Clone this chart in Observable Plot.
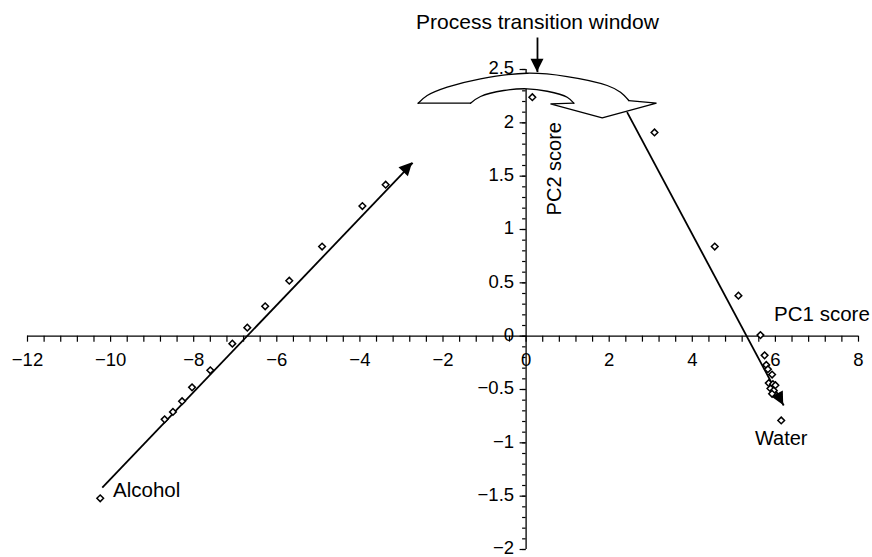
<!DOCTYPE html>
<html>
<head>
<meta charset="utf-8">
<script src="https://cdn.jsdelivr.net/npm/d3@7"></script>
<script src="https://cdn.jsdelivr.net/npm/@observablehq/plot@0.6"></script>
<style>
  html, body { margin: 0; padding: 0; background: #fff; }
</style>
</head>
<body>
<div id="chart"></div>
<script>
// ---- Data ----
const alcoholX = [-10.25, -8.70, -8.50, -8.28, -8.04, -7.60, -7.07, -6.71, -6.28, -5.70, -4.91, -3.94, -3.38];
const alcoholY = [-1.52, -0.78, -0.71, -0.61, -0.48, -0.32, -0.07, 0.08, 0.28, 0.52, 0.84, 1.22, 1.42];

const waterX = [0.15, 3.09, 4.54, 5.11, 5.64, 5.74, 5.78, 5.82, 5.92, 5.84, 5.94, 6.00, 5.88, 5.96, 5.92, 6.14];
const waterY = [2.24, 1.91, 0.84, 0.38, 0.01, -0.18, -0.27, -0.31, -0.36, -0.44, -0.45, -0.46, -0.49, -0.51, -0.54, -0.79];

const xTickLabels = [-12, -10, -8, -6, -4, -2, 0, 2, 4, 6, 8];
const yTickLabels = [-2, -1.5, -1, -0.5, 0, 0.5, 1, 1.5, 2, 2.5];

// trend arrows (start -> tip)
const arrowStartX = [-10.20, 2.43, 0.274];
const arrowStartY = [-1.42, 2.10, 2.80];
const arrowEndX = [-2.73, 6.20, 0.274];
const arrowEndY = [1.625, -0.65, 2.475];

// curved "process transition" block arrow outline
const outerArcX = [-2.597, -2.380, -1.899, -1.097, 0.026, 0.989, 1.952, 2.272, 2.472];
const outerArcY = [2.184, 2.256, 2.334, 2.413, 2.465, 2.434, 2.350, 2.287, 2.209];
const headX = [2.472, 3.138, 1.832, 0.587, 1.148];
const headY = [2.209, 2.184, 2.047, 2.178, 2.184];
const innerArcX = [1.148, 0.989, 0.508, 0.026, -0.537, -1.097, -1.338];
const innerArcY = [2.184, 2.240, 2.296, 2.319, 2.303, 2.247, 2.184];
const baseX = [-1.338, -2.597];
const baseY = [2.184, 2.184];

// ---- Build tables ----
const alcohol = alcoholX.map((x, i) => ({x, y: alcoholY[i]}));
const water = waterX.map((x, i) => ({x, y: waterY[i]}));
const arrows = arrowStartX.map((x1, i) => ({x1, y1: arrowStartY[i], x2: arrowEndX[i], y2: arrowEndY[i]}));
const pts = (xs, ys) => xs.map((x, i) => ({x, y: ys[i]}));
const outerArc = pts(outerArcX, outerArcY);
const head = pts(headX, headY);
const innerArc = pts(innerArcX, innerArcY);
const base = pts(baseX, baseY);
const shapeFill = [...outerArc, ...head.slice(1), ...innerArc.slice(1), ...base.slice(1)];

// ---- Layout ----
const W = 872, H = 557;
const mL = 27, mR = 14, mT = 69, mB = 8;
const xDom = [-12, 8], yDom = [-2, 2.5];
const kx = (W - mL - mR) / (xDom[1] - xDom[0]);
const ky = (H - mT - mB) / (yDom[1] - yDom[0]);

const xMinor = d3.range(-12, 8.0001, 0.4).map(v => +v.toFixed(2));
const yMinor = d3.range(-2, 2.5001, 0.1).map(v => +v.toFixed(2));
const yMajor = yTickLabels;

const fmt = d => d < 0 ? "\u2212" + Math.abs(d) : String(d);

// filled arrowheads drawn through Plot's scales
function arrowHeads(data, len, halfW) {
  return (index, scales) => {
    const g = d3.create("svg:g");
    for (const a of data) {
      const x1 = scales.x(a.x1), y1 = scales.y(a.y1), x2 = scales.x(a.x2), y2 = scales.y(a.y2);
      const dx = x2 - x1, dy = y2 - y1, L = Math.hypot(dx, dy);
      const ux = dx / L, uy = dy / L;
      const bx = x2 - ux * len, by = y2 - uy * len;
      g.append("path")
        .attr("d", `M${x2},${y2}L${bx - uy * halfW},${by + ux * halfW}L${bx + uy * halfW},${by - ux * halfW}Z`)
        .attr("fill", "black");
    }
    return g.node();
  };
}

const font = "'Liberation Sans', Arial, Helvetica, sans-serif";

const chart = Plot.plot({
  width: W,
  height: H,
  marginLeft: mL,
  marginRight: mR,
  marginTop: mT,
  marginBottom: mB,
  x: {domain: xDom, axis: null},
  y: {domain: yDom, axis: null},
  style: {fontFamily: font, background: "white", overflow: "visible"},
  marks: [
    // axes lines
    Plot.ruleY([0], {x1: xDom[0], x2: xDom[1], stroke: "black", strokeWidth: 1.3}),
    Plot.ruleX([0], {y1: yDom[0], y2: yDom[1], stroke: "black", strokeWidth: 1.3}),
    // x ticks (below the axis)
    Plot.ruleX(xMinor, {x: d => d, y1: 0, y2: -6 / ky, stroke: "black", strokeWidth: 1.2}),
    // y ticks (left of the axis)
    Plot.ruleY(yMinor, {y: d => d, x1: 0, x2: -3.5 / kx, stroke: "black", strokeWidth: 1.2}),
    Plot.ruleY(yMajor, {y: d => d, x1: 0, x2: -6 / kx, stroke: "black", strokeWidth: 1.2}),
    // tick labels
    Plot.text(xTickLabels, {x: d => d, y: 0, text: fmt, dy: 24, fontSize: 18.5, fill: "black"}),
    Plot.text(yTickLabels, {x: 0, y: d => d, text: fmt, dx: -12, dy: -1, textAnchor: "end", fontSize: 18.5, fill: "black"}),

    // curved block arrow
    Plot.line(shapeFill, {x: "x", y: "y", fill: "white", stroke: "none", curve: "linear"}),
    Plot.line(outerArc, {x: "x", y: "y", stroke: "black", strokeWidth: 1.3, curve: "catmull-rom"}),
    Plot.line(innerArc, {x: "x", y: "y", stroke: "black", strokeWidth: 1.3, curve: "catmull-rom"}),
    Plot.line(head, {x: "x", y: "y", stroke: "black", strokeWidth: 1.3, strokeLinejoin: "miter"}),
    Plot.line(base, {x: "x", y: "y", stroke: "black", strokeWidth: 1.3}),

    // trend arrows
    Plot.link(arrows, {x1: "x1", y1: "y1", x2: "x2", y2: "y2", stroke: "black", strokeWidth: 1.8}),
    arrowHeads(arrows, 13, 6.5),

    // data points
    Plot.dot(alcohol, {x: "x", y: "y", symbol: "diamond2", r: 3, stroke: "black", strokeWidth: 1.5, fill: "white"}),
    Plot.dot(water, {x: "x", y: "y", symbol: "diamond2", r: 3, stroke: "black", strokeWidth: 1.5, fill: "white"}),

    // annotations
    Plot.text(["Process transition window"], {x: 0.274, y: 2.94, text: d => d, fontSize: 21, fill: "black"}),
    Plot.text(["PC2 score"], {x: 0.68, y: 1.57, text: d => d, rotate: -90, fontSize: 20, fill: "black"}),
    Plot.text(["PC1 score"], {x: 7.12, y: 0.20, text: d => d, fontSize: 20.5, fill: "black"}),
    Plot.text(["Water"], {x: 6.14, y: -0.96, text: d => d, fontSize: 20, fill: "black"}),
    Plot.text(["Alcohol"], {x: -9.94, y: -1.45, text: d => d, textAnchor: "start", fontSize: 20.5, fill: "black"})
  ]
});

document.getElementById("chart").appendChild(chart);
</script>
</body>
</html>
